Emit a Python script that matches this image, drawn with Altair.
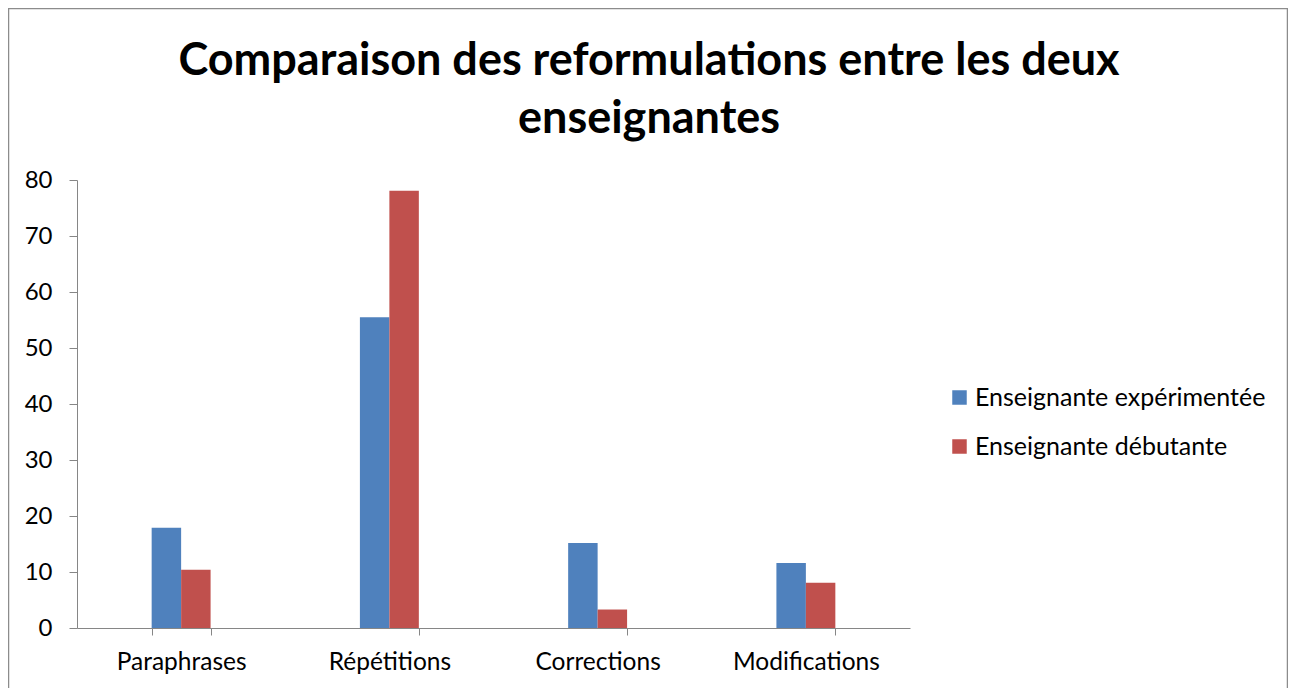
import altair as alt
import pandas as pd

categories = ["Paraphrases", "Répétitions", "Corrections", "Modifications"]
series_names = ["Enseignante expérimentée", "Enseignante débutante"]
experimentee = [17.9, 55.5, 15.2, 11.6]
debutante = [10.4, 78.1, 3.3, 8.1]
colors = ["#4F81BD", "#C0504D"]
title_lines = ["Comparaison des reformulations entre les deux", "enseignantes"]

rows = []
for c, a, b in zip(categories, experimentee, debutante):
    rows.append({"cat": c, "serie": series_names[0], "val": a})
    rows.append({"cat": c, "serie": series_names[1], "val": b})
df = pd.DataFrame(rows)

FONT = "Lato"
W, H = 833, 448
GRAY = "#868686"

bars = alt.Chart(df).mark_bar().encode(
    x=alt.X("cat:N", sort=categories, title=None,
            scale=alt.Scale(paddingInner=0.717, paddingOuter=0.3585),
            axis=alt.Axis(labelAngle=0, tickBand="extent", grid=False,
                          domainColor=GRAY, tickColor=GRAY,
                          tickSize=7, labelPadding=15, labelFontSize=24.5,
                          labelColor="black", labelFont=FONT)),
    xOffset=alt.XOffset("serie:N", sort=series_names),
    y=alt.Y("val:Q", title=None,
            scale=alt.Scale(domain=[0, 80], nice=False),
            axis=alt.Axis(values=[0, 10, 20, 30, 40, 50, 60, 70, 80],
                          gridColor=GRAY, domainColor=GRAY,
                          tickColor=GRAY, tickSize=8, labelPadding=17,
                          labelFontSize=24, labelColor="black", labelFont=FONT)),
    color=alt.Color("serie:N", sort=series_names,
                    scale=alt.Scale(domain=series_names, range=colors),
                    legend=alt.Legend(title=None, orient="none", legendX=870,
                                      legendY=205, symbolType="square",
                                      symbolSize=210, symbolStrokeWidth=0,
                                      labelFontSize=25, labelFont=FONT,
                                      labelColor="black", labelOffset=3,
                                      labelLimit=600, rowPadding=23)),
)

frame = alt.Chart(pd.DataFrame({"a": [0]})).mark_rect(
    fill="transparent", stroke="#8c8c8c", strokeWidth=1.5
).encode(
    x=alt.value(-68.5), x2=alt.value(1210.5),
    y=alt.value(-171.5), y2=alt.value(620)
)

tdf = pd.DataFrame({"t": title_lines, "i": [0, 1]})
title = alt.Chart(tdf).mark_text(
    font=FONT, fontSize=45, fontWeight="bold", color="black",
    align="center", baseline="alphabetic"
).encode(
    text="t:N",
    x=alt.value(572),
    y=alt.Y("i:Q", scale=alt.Scale(domain=[0, 1], range=[-105, -47]), axis=None),
)

chart = alt.layer(frame, title, bars).resolve_scale(y="independent").properties(
    width=W, height=H,
    autosize=alt.AutoSizeParams(type="none"),
    padding={"left": 69, "top": 172, "right": 378, "bottom": 70},
).configure_view(stroke=None)

chart.save("out.html", embed_options={"renderer": "svg", "actions": False})
